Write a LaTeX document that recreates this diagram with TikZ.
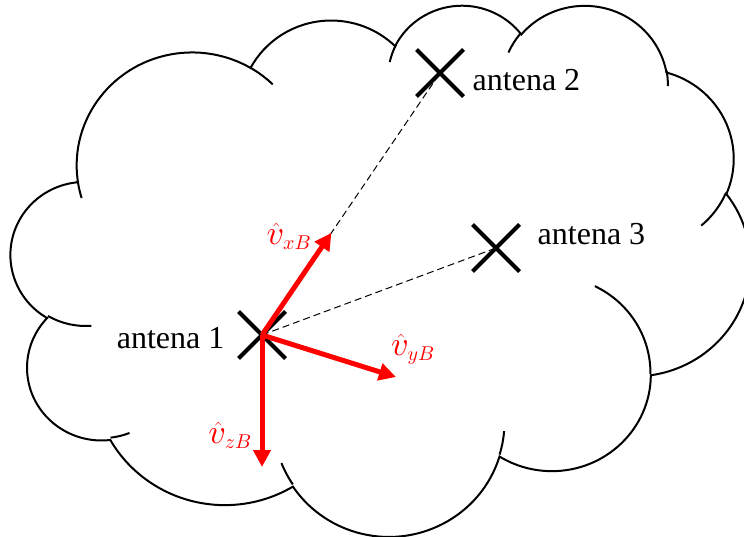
\documentclass[tikz,border=0pt]{standalone}
\usepackage{fontspec}
\setmainfont{Liberation Serif}
\usetikzlibrary{positioning,arrows.meta,calc,shapes.misc}
% math italic at any size
\DeclareFontShape{OML}{cmm}{m}{it}{<->cmmi10}{\skewchar\font'177}
\DeclareMathSizes{34}{34}{20}{15}

% angle on the ellipse as seen -> parameter angle for arc
\newcommand{\seenangle}[4]{%
  \pgfmathsetmacro{\angoff}{atan2((#2)*sin(#4),(#3)*cos(#4))-(#4)}%
  \pgfmathsetmacro{#1}{(#4)+\angoff-360*round(\angoff/360)}%
  \global\let#1#1}

\tikzset{
  cloudline/.style={line width=2pt},
  antenna/.style={draw, cross out, line width=4pt, minimum size=43pt, inner sep=0pt},
  antlabel/.style={inner sep=0pt, font=\fontsize{32}{38}\selectfont},
  link/.style={dash pattern=on 7pt off 4pt, line width=1pt},
  vec/.style={red, line width=5pt, -{Triangle[length=17pt,width=17pt]}},
  veclabel/.style={red, inner sep=0pt, font=\fontsize{34}{40}\selectfont}
}

\begin{document}
\begin{tikzpicture}[x=1pt,y=-1pt]
\useasboundingbox (0,0) rectangle (744,537);
\coordinate (corner) at (11,4);
% cloud outline (43200 box, /100)
\begin{scope}[shift={(corner)},x=1.71065pt,y=-1.22917pt]
\draw[cloudline] (39.00,143.70)
  foreach \rx/\ry/\st/\sw in {67.53/91.90/-190.4875/123.7805,
    53.33/72.67/-144.1024/89.9452, 43.65/59.45/-145.8079/99.7230,
    48.57/65.95/-130.9861/117.2417, 53.33/72.73/-78.7089/109.0269,
    67.75/92.20/-46.2673/130.2690, 57.85/78.67/0.6250/114.0333,
    67.52/92.15/22.4516/115.1726, 77.20/105.43/66.2426/75.7110,
    43.60/59.18/-274.9421/146.7356, 43.45/59.45/-246.8285/152.5189}
  {\pgfextra{\seenangle{\ta}{\rx}{\ry}{\st}\seenangle{\tb}{\rx}{\ry}{\st+\sw}}
   arc[x radius=\rx, y radius=\ry, start angle=\ta, end angle=\tb]} -- cycle;
% inner ends of the bumps
\draw[cloudline]
  foreach \px/\py/\rx/\ry/\st/\sw in {46.93/261.77/43.45/59.45/86.7420/26.4295,
    69.28/348.99/43.60/59.18/73.6105/11.4475,
    164.78/390.90/67.52/92.15/137.6242/14.0811,
    288.27/347.51/67.52/92.15/6.4533/15.9984,
    341.29/229.54/57.85/78.67/-70.2924/70.9174,
    417.98/153.54/53.33/72.73/30.3180/27.7515,
    383.24/54.26/48.57/65.95/-13.7443/14.8589,
    290.78/39.52/48.57/65.95/-149.1815/18.1954,
    221.41/47.20/43.65/59.45/-163.4943/17.6864,
    140.00/51.92/67.53/91.90/-66.7070/12.3194,
    41.27/157.89/67.53/91.90/157.6544/11.8582}
  {(\px,\py) \pgfextra{\seenangle{\ta}{\rx}{\ry}{\st}\seenangle{\tb}{\rx}{\ry}{\st+\sw}}
   arc[x radius=\rx, y radius=\ry, start angle=\ta, end angle=\tb]};
\end{scope}

\node (ant1) [antenna] at (262,335) {};
\node (ant2) [antenna] at (440,73) {};
\node (ant3) [antenna] at (496,248) {};
\node (lab1) [antlabel, left=14pt of ant1, yshift=-3pt] {antena 1};
\node (lab2) [antlabel, right=9pt of ant2, yshift=-7pt] {antena 2};
\node (lab3) [antlabel, right=18pt of ant3, yshift=14pt] {antena 3};

\coordinate (xtip) at ($(ant1)!0.39!(ant2)$);
\coordinate (ytip) at (396,377);
\coordinate (ztip) at (262,467);

\draw[link] (ant1.center) -- (ant2.center);
\draw[link] (ant1.center) -- (ant3.center);

\draw[vec] (ant1.center) -- (xtip);
\draw[vec] (ant1.center) -- (ytip);
\draw[vec] (ant1.center) -- (ztip);

\node (vx) [veclabel, left=20pt of xtip, yshift=-4pt] {$\hat{v}_{xB}$};
\node (vy) [veclabel, above=12pt of ytip, xshift=17pt] {$\hat{v}_{yB}$};
\node (vz) [veclabel, above left=18pt and 10pt of ztip] {$\hat{v}_{zB}$};
\end{tikzpicture}
\end{document}
